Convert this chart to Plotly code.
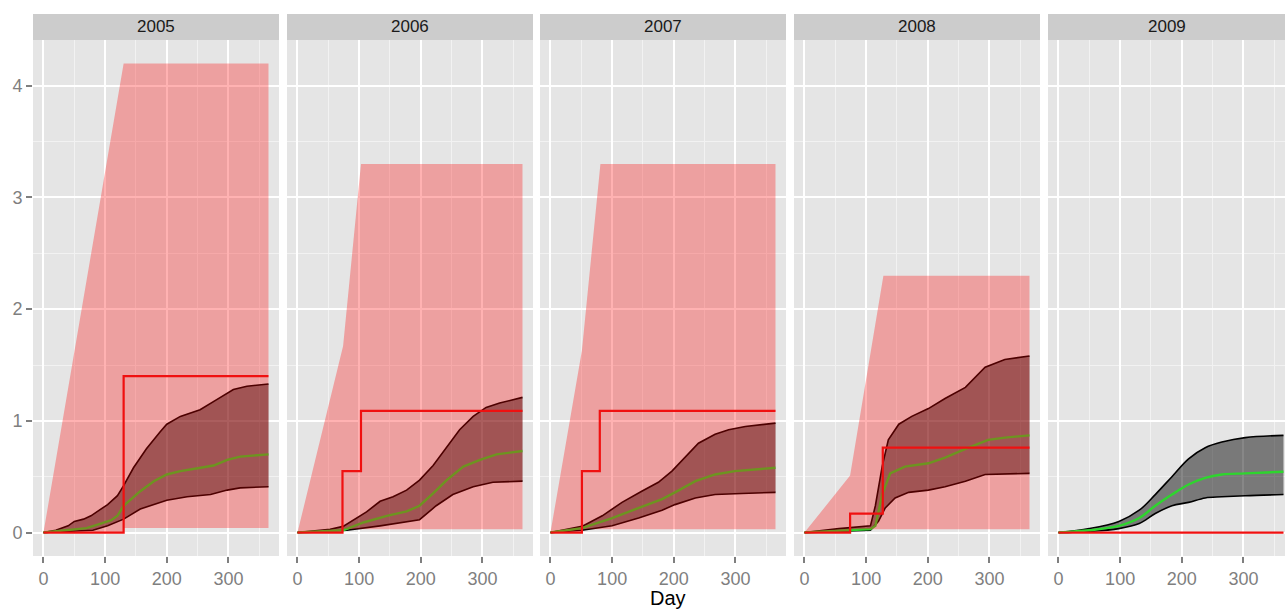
import plotly.graph_objects as go

YEARS = [2005, 2006, 2007, 2008, 2009]
X_TICKS = [0, 100, 200, 300]
Y_TICKS = [0, 1, 2, 3, 4]

# ---- envelope polygon (upper edge / lower edge) ----
env_up_x_2005 = [0, 130, 365]
env_up_y_2005 = [0, 4.2, 4.2]
env_lo_x_2005 = [0, 130, 130, 365]
env_lo_y_2005 = [0, 0, 0.04, 0.04]

env_up_x_2006 = [0, 74, 103, 365]
env_up_y_2006 = [0, 1.67, 3.30, 3.30]
env_lo_x_2006 = [0, 73, 73, 365]
env_lo_y_2006 = [0, 0, 0.03, 0.03]

env_up_x_2007 = [0, 51, 81, 365]
env_up_y_2007 = [0, 1.63, 3.30, 3.30]
env_lo_x_2007 = [0, 51, 51, 365]
env_lo_y_2007 = [0, 0, 0.03, 0.03]

env_up_x_2008 = [0, 74, 128, 365]
env_up_y_2008 = [0, 0.51, 2.30, 2.30]
env_lo_x_2008 = [0, 74, 74, 365]
env_lo_y_2008 = [0, 0, 0.03, 0.03]

# ---- observed step line ----
step_x_2005 = [0, 130, 365]
step_y_2005 = [0, 1.40, 1.40]
step_x_2006 = [0, 73, 103, 365]
step_y_2006 = [0, 0.55, 1.09, 1.09]
step_x_2007 = [0, 51, 80, 365]
step_y_2007 = [0, 0.55, 1.09, 1.09]
step_x_2008 = [0, 74, 127, 365]
step_y_2008 = [0, 0.17, 0.76, 0.76]
step_x_2009 = [0, 365]
step_y_2009 = [0, 0]

# ---- ribbon upper / lower and median ----
up_x_2005 = [0, 20, 40, 50, 65, 77, 93, 104, 120, 130, 146, 167, 189, 200, 222, 254, 281, 308, 330, 365]
up_y_2005 = [0, 0.02, 0.06, 0.10, 0.12, 0.15, 0.21, 0.25, 0.33, 0.42, 0.58, 0.75, 0.90, 0.97, 1.04, 1.10, 1.19, 1.28, 1.31, 1.33]
lo_x_2005 = [0, 50, 80, 104, 130, 157, 179, 200, 233, 271, 298, 319, 365]
lo_y_2005 = [0, 0.01, 0.02, 0.06, 0.12, 0.21, 0.25, 0.29, 0.32, 0.34, 0.38, 0.40, 0.41]
md_x_2005 = [0, 39, 70, 93, 110, 120, 130, 157, 179, 200, 222, 255, 276, 298, 319, 365]
md_y_2005 = [0, 0.02, 0.04, 0.08, 0.11, 0.15, 0.24, 0.37, 0.46, 0.52, 0.55, 0.58, 0.60, 0.65, 0.68, 0.70]

up_x_2006 = [0, 53, 74, 91, 112, 134, 155, 177, 198, 220, 242, 263, 285, 306, 328, 365]
up_y_2006 = [0, 0.03, 0.055, 0.115, 0.185, 0.28, 0.32, 0.38, 0.47, 0.60, 0.76, 0.92, 1.04, 1.12, 1.16, 1.21]
lo_x_2006 = [0, 80, 134, 198, 225, 252, 285, 317, 365]
lo_y_2006 = [0, 0.02, 0.06, 0.115, 0.24, 0.34, 0.41, 0.45, 0.46]
md_x_2006 = [0, 74, 107, 145, 177, 198, 220, 242, 269, 296, 323, 365]
md_y_2006 = [0, 0.02, 0.09, 0.15, 0.19, 0.24, 0.35, 0.47, 0.59, 0.65, 0.70, 0.73]

up_x_2007 = [0, 51, 84, 116, 148, 175, 197, 218, 240, 267, 289, 316, 365]
up_y_2007 = [0, 0.055, 0.15, 0.27, 0.37, 0.45, 0.55, 0.67, 0.80, 0.88, 0.92, 0.95, 0.98]
lo_x_2007 = [0, 51, 100, 143, 181, 202, 235, 267, 310, 365]
lo_y_2007 = [0, 0.02, 0.06, 0.13, 0.20, 0.25, 0.31, 0.34, 0.35, 0.36]
md_x_2007 = [0, 51, 100, 143, 181, 202, 235, 267, 299, 365]
md_y_2007 = [0, 0.04, 0.13, 0.22, 0.30, 0.36, 0.46, 0.52, 0.55, 0.58]

up_x_2008 = [0, 56, 107, 115, 126, 136, 153, 174, 201, 228, 261, 293, 325, 365]
up_y_2008 = [0, 0.035, 0.06, 0.24, 0.59, 0.83, 0.97, 1.04, 1.11, 1.20, 1.30, 1.48, 1.55, 1.58]
lo_x_2008 = [0, 107, 120, 131, 147, 169, 201, 228, 261, 293, 365]
lo_y_2008 = [0, 0.02, 0.10, 0.22, 0.31, 0.36, 0.38, 0.41, 0.46, 0.52, 0.53]
md_x_2008 = [0, 107, 115, 126, 139, 163, 201, 228, 266, 298, 325, 365]
md_y_2008 = [0, 0.03, 0.06, 0.34, 0.53, 0.59, 0.62, 0.67, 0.76, 0.83, 0.85, 0.87]

days_2009 = [0, 50, 98, 131, 157, 184, 211, 238, 265, 303, 365]
up_y_2009 = [0, 0.035, 0.10, 0.20, 0.34, 0.50, 0.66, 0.76, 0.81, 0.85, 0.87]
lo_y_2009 = [0, 0.01, 0.035, 0.08, 0.17, 0.24, 0.27, 0.31, 0.32, 0.33, 0.34]
md_y_2009 = [0, 0.02, 0.06, 0.13, 0.24, 0.34, 0.43, 0.49, 0.52, 0.53, 0.545]

ENV = {
    2005: (env_up_x_2005, env_up_y_2005, env_lo_x_2005, env_lo_y_2005),
    2006: (env_up_x_2006, env_up_y_2006, env_lo_x_2006, env_lo_y_2006),
    2007: (env_up_x_2007, env_up_y_2007, env_lo_x_2007, env_lo_y_2007),
    2008: (env_up_x_2008, env_up_y_2008, env_lo_x_2008, env_lo_y_2008),
}
STEP = {2005: (step_x_2005, step_y_2005), 2006: (step_x_2006, step_y_2006),
        2007: (step_x_2007, step_y_2007), 2008: (step_x_2008, step_y_2008),
        2009: (step_x_2009, step_y_2009)}
RIB = {
    2005: (up_x_2005, up_y_2005, lo_x_2005, lo_y_2005, md_x_2005, md_y_2005),
    2006: (up_x_2006, up_y_2006, lo_x_2006, lo_y_2006, md_x_2006, md_y_2006),
    2007: (up_x_2007, up_y_2007, lo_x_2007, lo_y_2007, md_x_2007, md_y_2007),
    2008: (up_x_2008, up_y_2008, lo_x_2008, lo_y_2008, md_x_2008, md_y_2008),
    2009: (days_2009, up_y_2009, days_2009, lo_y_2009, days_2009, md_y_2009),
}

# ---- layout geometry ----
W, H = 1285, 610
ML, MR, MT, MB = 33, 0, 40, 54
PW = W - ML - MR
PH = H - MT - MB
STRIP_H = 26
panels_px = [(33, 279), (287, 533), (540, 786), (794, 1040), (1048, 1285)]
domains = [((a - ML) / PW, min(1.0, (b - ML) / PW)) for a, b in panels_px]
XMIN = -17.0
PX_PER_UNIT = 0.6165
x_ranges = [[XMIN, XMIN + (b - a) / PX_PER_UNIT] for a, b in panels_px]
Y_RANGE = [-0.21, 4.41]

FONT = "Liberation Sans, Arial, Helvetica, sans-serif"
GREY50 = "#7F7F7F"
RIBBON_FILL = "rgba(0,0,0,0.47)"

fig = go.Figure()

for i, yr in enumerate(YEARS):
    k = "" if i == 0 else str(i + 1)
    xa, ya = "x" + k, "y" + k
    ux, uy, lx, ly, mx, my = RIB[yr]
    if yr == 2009:
        # smooth curves sharing the same x: fill between them with tonexty
        fig.add_trace(go.Scatter(x=lx, y=ly, mode="lines",
                                 line=dict(color="black", width=1.6, shape="spline", smoothing=1),
                                 showlegend=False, xaxis=xa, yaxis=ya))
        fig.add_trace(go.Scatter(x=ux, y=uy, mode="lines", fill="tonexty", fillcolor=RIBBON_FILL,
                                 line=dict(color="black", width=1.6, shape="spline", smoothing=1),
                                 showlegend=False, xaxis=xa, yaxis=ya))
        fig.add_trace(go.Scatter(x=mx, y=my, mode="lines",
                                 line=dict(color="#2ED52E", width=2.4, shape="spline", smoothing=1),
                                 showlegend=False, xaxis=xa, yaxis=ya))
    else:
        fig.add_trace(go.Scatter(x=list(ux) + list(lx)[::-1], y=list(uy) + list(ly)[::-1],
                                 fill="toself", fillcolor=RIBBON_FILL, line=dict(width=0),
                                 mode="lines", hoverinfo="skip", showlegend=False, xaxis=xa, yaxis=ya))
        fig.add_trace(go.Scatter(x=ux, y=uy, mode="lines", line=dict(color="black", width=1.6),
                                 showlegend=False, xaxis=xa, yaxis=ya))
        fig.add_trace(go.Scatter(x=lx, y=ly, mode="lines", line=dict(color="black", width=1.6),
                                 showlegend=False, xaxis=xa, yaxis=ya))
        fig.add_trace(go.Scatter(x=mx, y=my, mode="lines", line=dict(color="#2ED52E", width=2.4),
                                 showlegend=False, xaxis=xa, yaxis=ya))
    if yr in ENV:
        ex, ey, elx, ely = ENV[yr]
        fig.add_trace(go.Scatter(x=list(ex) + list(elx)[::-1], y=list(ey) + list(ely)[::-1],
                                 fill="toself", fillcolor="rgba(255,0,0,0.30)", line=dict(width=0),
                                 mode="lines", hoverinfo="skip", showlegend=False, xaxis=xa, yaxis=ya))
    sx, sy = STEP[yr]
    fig.add_trace(go.Scatter(x=sx, y=sy, mode="lines", line=dict(color="#F01010", width=2.2, shape="hv"),
                             showlegend=False, xaxis=xa, yaxis=ya))

layout = dict(
    width=W, height=H,
    margin=dict(l=ML, r=MR, t=MT, b=MB, pad=0),
    paper_bgcolor="white", plot_bgcolor="#E5E5E5",
    font=dict(family=FONT, color=GREY50, size=18),
    showlegend=False,
)
shapes, annotations = [], []
for i, yr in enumerate(YEARS):
    k = "" if i == 0 else str(i + 1)
    layout["xaxis" + k] = dict(
        domain=list(domains[i]), range=x_ranges[i], anchor="y" + k,
        tickvals=X_TICKS, ticks="outside", ticklen=6, tickwidth=1.5, tickcolor=GREY50,
        tickfont=dict(size=18, color=GREY50, family=FONT),
        showgrid=True, gridcolor="white", gridwidth=2, zeroline=False, showline=False,
        minor=dict(dtick=50, tick0=0, showgrid=True, gridcolor="#F2F2F2", gridwidth=1, ticks=""),
        automargin=False,
    )
    layout["yaxis" + k] = dict(
        domain=[0, 1], range=Y_RANGE, anchor="x" + k,
        tickvals=Y_TICKS, ticks="outside" if i == 0 else "", ticklen=6, tickwidth=1.5, tickcolor=GREY50,
        showticklabels=(i == 0), tickfont=dict(size=18, color=GREY50, family=FONT),
        showgrid=True, gridcolor="white", gridwidth=2, zeroline=False, showline=False,
        minor=dict(dtick=0.5, tick0=0, showgrid=True, gridcolor="#F2F2F2", gridwidth=1, ticks=""),
        automargin=False,
    )
    d0, d1 = domains[i]
    shapes.append(dict(type="rect", xref="paper", yref="paper", x0=d0, x1=d1,
                       y0=1.0, y1=1 + STRIP_H / PH, fillcolor="#CCCCCC", line=dict(width=0), layer="below"))
    annotations.append(dict(text=str(yr), xref="paper", yref="paper", x=(d0 + d1) / 2,
                            y=1 + (STRIP_H / 2) / PH,
                            xanchor="center", yanchor="middle", showarrow=False,
                            font=dict(size=17, color="#1A1A1A", family=FONT)))

annotations.append(dict(text="Day", xref="paper", yref="paper", x=(668 - ML) / PW, y=(H - MB - 598) / PH,
                        xanchor="center", yanchor="middle", showarrow=False,
                        font=dict(size=20, color="black", family=FONT)))
layout["shapes"] = shapes
layout["annotations"] = annotations
fig.update_layout(**layout)

fig.write_html("out.html")
